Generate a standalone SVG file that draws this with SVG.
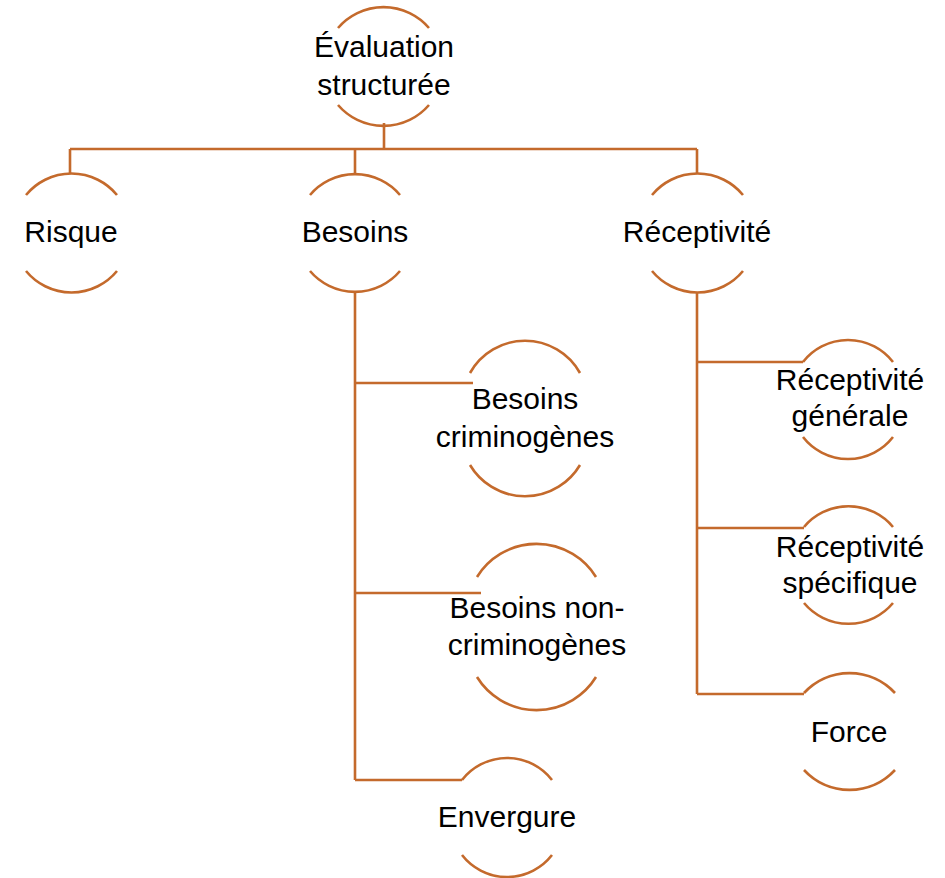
<svg xmlns="http://www.w3.org/2000/svg" width="945" height="878" viewBox="0 0 945 878">
<style>
.arc{fill:none;stroke:#C46A2C;stroke-width:2.6;}
.con{fill:none;stroke:#C46A2C;stroke-width:2.6;}
text{font-family:"Liberation Sans",Arial,sans-serif;font-size:30px;fill:#000;text-anchor:middle;}
</style>
<rect width="945" height="878" fill="#fff"/>
<g id="connectors">
<path class="con" d="M384 123 V149 M70 149 H697 M70 149 V173 M355 149 V173 M697 149 V173"/>
<path class="con" d="M355 292 V780 M355 383 H473 M355 593 H481 M355 780 H462"/>
<path class="con" d="M697 292 V694 M697 362 H803 M697 528 H804 M697 694 H804"/>
</g>
<g id="n-evaluation">
<path class="arc" d="M338 28 A60 60 0 0 1 429 28"/>
<path class="arc" d="M338 105 A60 60 0 0 0 429 105"/>
<text x="384" y="57">Évaluation</text>
<text x="384" y="95">structurée</text>
</g>
<g id="n-risque">
<path class="arc" d="M26 195 A59 59 0 0 1 117 195"/>
<path class="arc" d="M26 271 A59 59 0 0 0 117 271"/>
<text x="71" y="242">Risque</text>
</g>
<g id="n-besoins">
<path class="arc" d="M310 195 A59 59 0 0 1 400 195"/>
<path class="arc" d="M310 271 A59 59 0 0 0 400 271"/>
<text x="355" y="242">Besoins</text>
</g>
<g id="n-receptivite">
<path class="arc" d="M652 195 A59 59 0 0 1 743 195"/>
<path class="arc" d="M652 271 A59 59 0 0 0 743 271"/>
<text x="697" y="242">Réceptivité</text>
</g>
<g id="n-besoins-crim">
<path class="arc" d="M470 373 A63 63 0 0 1 580 373"/>
<path class="arc" d="M470 465 A64 64 0 0 0 580 465"/>
<text x="525" y="409">Besoins</text>
<text x="525" y="447">criminogènes</text>
</g>
<g id="n-besoins-noncrim">
<path class="arc" d="M477 577 A70 70 0 0 1 596 577"/>
<path class="arc" d="M477 677 A70 70 0 0 0 596 677"/>
<text x="537" y="618">Besoins non-</text>
<text x="537" y="655">criminogènes</text>
</g>
<g id="n-envergure">
<path class="arc" d="M462 780 A57 57 0 0 1 552 780"/>
<path class="arc" d="M462 855 A57 57 0 0 0 552 855"/>
<text x="507" y="827">Envergure</text>
</g>
<g id="n-recep-gen">
<path class="arc" d="M803 362 A57 57 0 0 1 893 362"/>
<path class="arc" d="M803 437 A57 57 0 0 0 893 437"/>
<text x="850" y="390">Réceptivité</text>
<text x="850" y="426">générale</text>
</g>
<g id="n-recep-spec">
<path class="arc" d="M804 527 A58 58 0 0 1 893 527"/>
<path class="arc" d="M804 603 A58 58 0 0 0 893 603"/>
<text x="850" y="557">Réceptivité</text>
<text x="850" y="593">spécifique</text>
</g>
<g id="n-force">
<path class="arc" d="M804 693 A62 62 0 0 1 895 693"/>
<path class="arc" d="M804 770 A62 62 0 0 0 895 770"/>
<text x="849" y="742">Force</text>
</g>
</svg>
